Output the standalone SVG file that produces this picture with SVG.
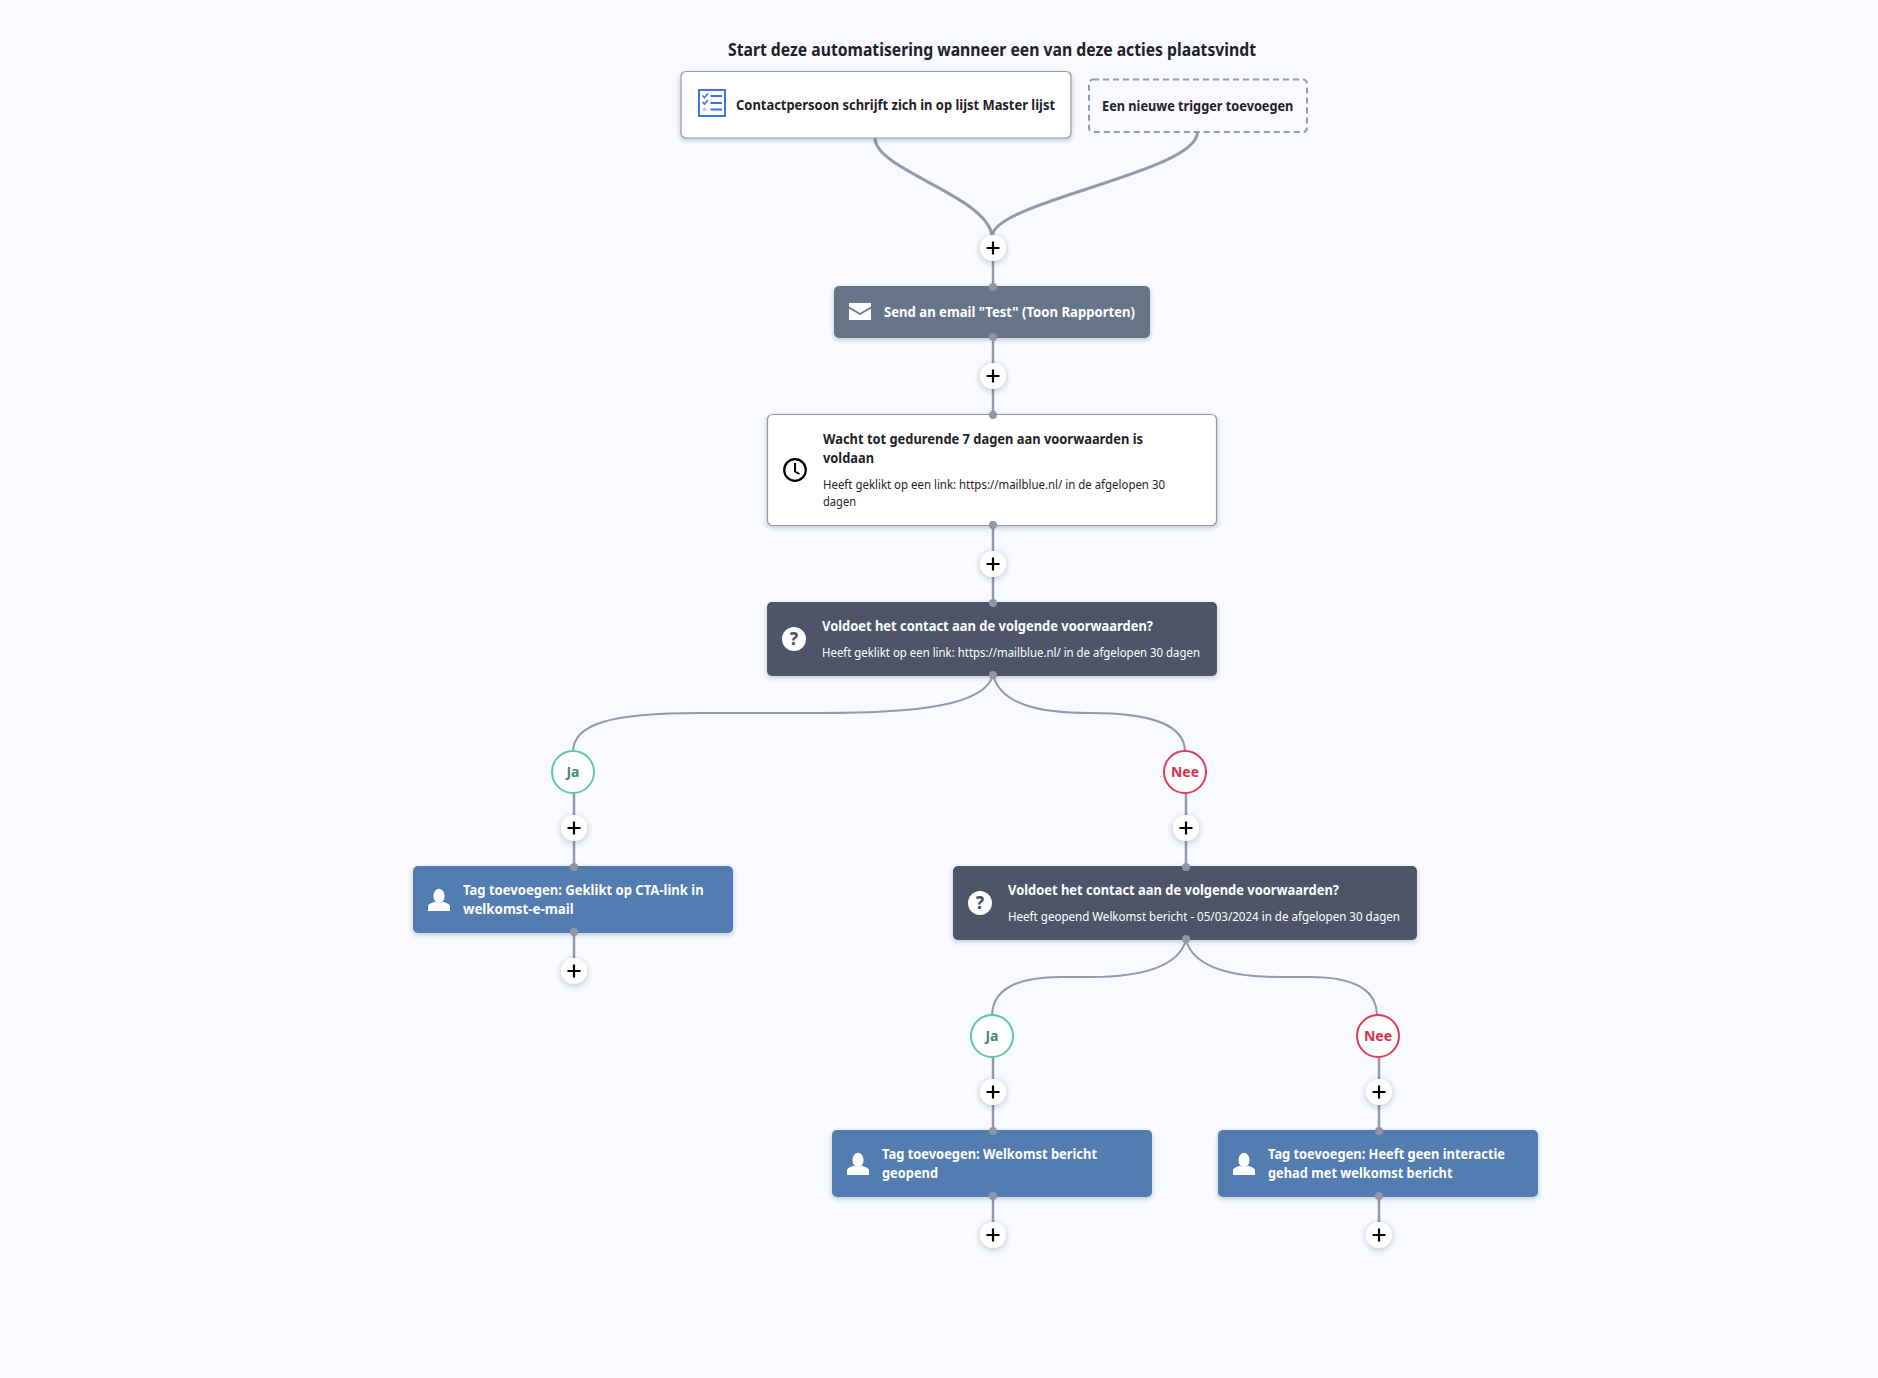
<svg xmlns="http://www.w3.org/2000/svg" width="1878" height="1378" viewBox="0 0 1878 1378">
<style>
text{font-family:"Noto Sans","Liberation Sans",sans-serif;font-weight:700;font-size:14.4px;fill:#1f2129}
.w{fill:#fff}
.sub{font-weight:400;font-size:12.4px}
.t{font-size:17px}
.con{fill:none;stroke:#9398ad;stroke-width:2.5}
.thin{stroke-width:2}
.top{stroke-width:3}
.dot{fill:#9095a9}
.plus{fill:#fff;filter:url(#s2)}
.pm{stroke:#000;stroke-width:2.2;fill:none}
.box{filter:url(#s)}
.white{fill:#fff;stroke:#9397a9;stroke-width:1.2}
.blue{fill:#537bb1}
.dark{fill:#4f5467}
.slate{fill:#677489}
.c{font-size:14px;font-weight:700;text-anchor:middle}
</style>
<defs>
<filter id="s" x="-10%" y="-20%" width="120%" height="150%"><feDropShadow dx="0" dy="2" stdDeviation="2.5" flood-color="#1f2a44" flood-opacity=".25"/></filter>
<filter id="s2" x="-50%" y="-50%" width="200%" height="200%"><feDropShadow dx="0" dy="1.5" stdDeviation="3" flood-color="#1f2a44" flood-opacity=".28"/></filter>
<g id="plusIcon"><circle class="plus" r="13"/><path class="pm" d="M-6.5 0H6.5M0-6.5V6.5"/></g>
<g id="person"><ellipse cx="0" cy="-7" rx="5.6" ry="7.2" fill="#fff"/><path d="M-11 8V3.6C-11 1-7 -.5-3.5-1.2 -1.5 .4 1.5 .4 3.5-1.2 7-.5 11 1 11 3.6V8Z" fill="#fff"/></g>
<g id="question"><circle r="12" fill="#fff"/><text x="0" y="6" text-anchor="middle" style="font-size:17px;font-weight:800;fill:#4f5467">?</text></g>
</defs>
<rect width="1878" height="1378" fill="#f8faff"/>

<g id="connectors">
<path class="con top" d="M875 138C875 170 985 195 992 235"/>
<path class="con top" d="M1197.500 132C1197.500 172 1000 200 992 235"/>
<path class="con" d="M993 232V287M993 337V415M993 525V603"/>
<path class="con thin" d="M993 675C985 705 920 713 820 713H700C610 713 573 724 573 752"/>
<path class="con thin" d="M993 675C1001 705 1040 713 1090 713H1090C1150 713 1185 724 1185 752"/>
<path class="con" d="M574 790V867M574 932V971M1186 790V867"/>
<path class="con thin" d="M1186 940C1178 968 1140 977 1090 977H1060C1020 977 992 988 992 1016"/>
<path class="con thin" d="M1186 940C1194 968 1232 977 1280 977H1310C1350 977 1377 988 1377 1016"/>
<path class="con" d="M993 1055V1131M1379 1055V1131M993 1196V1235M1379 1196V1235"/>
</g>

<text id="title" class="t" x="728" y="56" textLength="528" lengthAdjust="spacingAndGlyphs">Start deze automatisering wanneer een van deze acties plaatsvindt</text>

<g id="trigger">
<rect class="box white" x="681" y="71.500" width="390" height="66.500" rx="5"/>
<g fill="none" stroke="#3f73e0">
<rect x="699" y="90" width="26" height="26" stroke-width="2"/>
<path stroke-width="2" d="M710.500 96H722M710.500 103H722M710.500 109.500H722"/>
<path stroke-width="1.600" d="M702.500 95.500L704.500 97.500 708 93.500M702.500 102L704.500 104 708 100"/>
</g>
<circle cx="704.500" cy="109.500" r="1.800" fill="#b6c9f3"/>
<text x="736" y="110" textLength="319" lengthAdjust="spacingAndGlyphs">Contactpersoon schrijft zich in op lijst Master lijst</text>
</g>

<g id="new-trigger">
<rect x="1089" y="79.500" width="218" height="52.500" rx="4" fill="#f8faff" stroke="#9398ad" stroke-width="2" stroke-dasharray="6 4"/>
<text x="1102" y="111" textLength="191.400" lengthAdjust="spacingAndGlyphs">Een nieuwe trigger toevoegen</text>
</g>

<g id="plus-1"><use href="#plusIcon" x="993" y="248"/></g>

<g id="send-email">
<rect class="box slate" x="834" y="286" width="316" height="52" rx="5"/>
<path d="M849 303H871V306.500L860 313 849 306.500Z" fill="#fff"/>
<path d="M849 308.500L860 315 871 308.500V320H849Z" fill="#fff"/>
<text class="w" x="884" y="317" textLength="251" lengthAdjust="spacingAndGlyphs">Send an email "Test" (Toon Rapporten)</text>
</g>

<g id="plus-2"><use href="#plusIcon" x="993" y="376"/></g>

<g id="wait">
<rect class="box white" x="767.500" y="414.500" width="449" height="111" rx="5"/>
<circle cx="795" cy="470" r="10.800" fill="none" stroke="#000" stroke-width="2.200"/>
<path d="M795 463V471.500L799.500 474" fill="none" stroke="#000" stroke-width="2"/>
<text x="823" y="444" textLength="320" lengthAdjust="spacingAndGlyphs">Wacht tot gedurende 7 dagen aan voorwaarden is</text>
<text x="823" y="463" textLength="51" lengthAdjust="spacingAndGlyphs">voldaan</text>
<text class="sub" x="823" y="489" textLength="342" lengthAdjust="spacingAndGlyphs">Heeft geklikt op een link: https://mailblue.nl/ in de afgelopen 30</text>
<text class="sub" x="823" y="506" textLength="33" lengthAdjust="spacingAndGlyphs">dagen</text>
</g>

<g id="plus-3"><use href="#plusIcon" x="993" y="564"/></g>

<g id="condition-1">
<rect class="box dark" x="767" y="602" width="450" height="74" rx="5"/>
<use href="#question" x="794" y="639"/>
<text class="w" x="822" y="631" textLength="331" lengthAdjust="spacingAndGlyphs">Voldoet het contact aan de volgende voorwaarden?</text>
<text class="w sub" x="822" y="657" textLength="378" lengthAdjust="spacingAndGlyphs">Heeft geklikt op een link: https://mailblue.nl/ in de afgelopen 30 dagen</text>
</g>

<g id="ja-1"><circle cx="573" cy="772" r="21" fill="#fff" stroke="#5cc9a1" stroke-width="2"/><text class="c" x="573" y="777" style="fill:#3f8a6e">Ja</text></g>
<g id="nee-1"><circle cx="1185" cy="772" r="21" fill="#fff" stroke="#e0395a" stroke-width="2"/><text class="c" x="1185" y="777" style="fill:#d92f50">Nee</text></g>
<g id="plus-4"><use href="#plusIcon" x="574" y="828"/></g>
<g id="plus-5"><use href="#plusIcon" x="1186" y="828"/></g>

<g id="tag-cta">
<rect class="box blue" x="413" y="866" width="320" height="67" rx="5"/>
<use href="#person" x="439" y="903"/>
<text class="w" x="463" y="895" textLength="240.700" lengthAdjust="spacingAndGlyphs">Tag toevoegen: Geklikt op CTA-link in</text>
<text class="w" x="463" y="914" textLength="110.700" lengthAdjust="spacingAndGlyphs">welkomst-e-mail</text>
</g>
<g id="plus-6"><use href="#plusIcon" x="574" y="971"/></g>

<g id="condition-2">
<rect class="box dark" x="953" y="866" width="464" height="74" rx="5"/>
<use href="#question" x="980" y="903"/>
<text class="w" x="1008" y="895" textLength="331" lengthAdjust="spacingAndGlyphs">Voldoet het contact aan de volgende voorwaarden?</text>
<text class="w sub" x="1008" y="921" textLength="392" lengthAdjust="spacingAndGlyphs">Heeft geopend Welkomst bericht - 05/03/2024 in de afgelopen 30 dagen</text>
</g>

<g id="ja-2"><circle cx="992" cy="1036" r="21" fill="#fff" stroke="#5cc9a1" stroke-width="2"/><text class="c" x="992" y="1041" style="fill:#3f8a6e">Ja</text></g>
<g id="nee-2"><circle cx="1378" cy="1036" r="21" fill="#fff" stroke="#e0395a" stroke-width="2"/><text class="c" x="1378" y="1041" style="fill:#d92f50">Nee</text></g>
<g id="plus-7"><use href="#plusIcon" x="993" y="1092"/></g>
<g id="plus-8"><use href="#plusIcon" x="1379" y="1092"/></g>

<g id="tag-opened">
<rect class="box blue" x="832" y="1130" width="320" height="67" rx="5"/>
<use href="#person" x="858" y="1167"/>
<text class="w" x="882" y="1159" textLength="215" lengthAdjust="spacingAndGlyphs">Tag toevoegen: Welkomst bericht</text>
<text class="w" x="882" y="1178" textLength="56" lengthAdjust="spacingAndGlyphs">geopend</text>
</g>
<g id="tag-no-interaction">
<rect class="box blue" x="1218" y="1130" width="320" height="67" rx="5"/>
<use href="#person" x="1244" y="1167"/>
<text class="w" x="1268" y="1159" textLength="237" lengthAdjust="spacingAndGlyphs">Tag toevoegen: Heeft geen interactie</text>
<text class="w" x="1268" y="1178" textLength="184.500" lengthAdjust="spacingAndGlyphs">gehad met welkomst bericht</text>
</g>
<g id="plus-9"><use href="#plusIcon" x="993" y="1235"/></g>
<g id="plus-10"><use href="#plusIcon" x="1379" y="1235"/></g>

<g id="ports">
<circle class="dot" cx="993" cy="287" r="4"/><circle class="dot" cx="993" cy="337" r="4"/>
<circle class="dot" cx="993" cy="415" r="4"/><circle class="dot" cx="993" cy="525" r="4"/>
<circle class="dot" cx="993" cy="603" r="4"/><circle class="dot" cx="993" cy="675" r="4"/>
<circle class="dot" cx="574" cy="867" r="4"/><circle class="dot" cx="574" cy="932" r="4"/>
<circle class="dot" cx="1186" cy="867" r="4"/><circle class="dot" cx="1186" cy="939" r="4"/>
<circle class="dot" cx="993" cy="1131" r="4"/><circle class="dot" cx="993" cy="1196" r="4"/>
<circle class="dot" cx="1379" cy="1131" r="4"/><circle class="dot" cx="1379" cy="1196" r="4"/>
</g>
</svg>
